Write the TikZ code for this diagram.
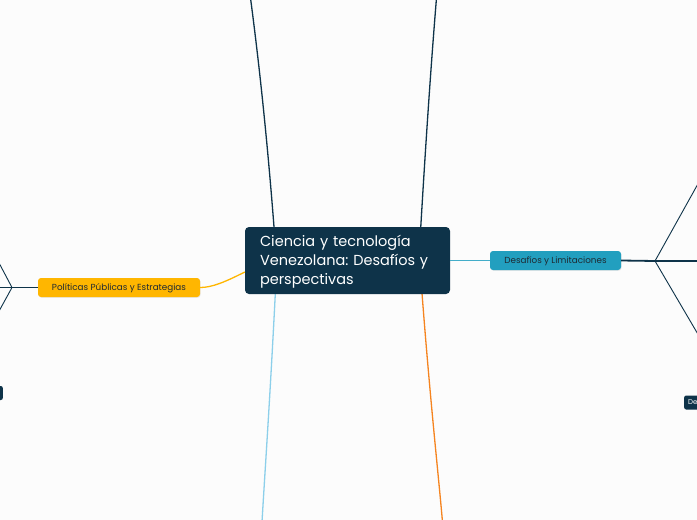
\documentclass[tikz,border=0pt]{standalone}
\usepackage{fontspec}
\setmainfont{Poppins}
\frenchspacing
\usetikzlibrary{shadows}
\definecolor{bg}{HTML}{FCFCFC}
\definecolor{navy}{HTML}{0E3349}
\definecolor{skyl}{HTML}{8CCFEA}
\definecolor{teal}{HTML}{229FBF}
\definecolor{orng}{HTML}{F5841F}
\definecolor{gold}{HTML}{FFB600}
\definecolor{txt}{HTML}{1F2A33}
\tikzset{
  mainbox/.style={fill=navy, rounded corners=4pt, minimum width=205pt, minimum height=67pt, inner sep=0pt},
  maintext/.style={text=white, text width=176pt, align=left, inner xsep=0pt, font=\fontsize{14.5}{19}\selectfont},
  subbox/.style={rounded corners=3pt, minimum height=19pt, inner xsep=0pt, text=txt, text height=7pt, text depth=1.2pt, font=\fontsize{8.8}{10}\selectfont, drop shadow={shadow xshift=0.6pt, shadow yshift=-0.8pt, opacity=0.15}},
  smallbox/.style={fill=navy, rounded corners=2pt, minimum height=14pt, text=white, text height=5.5pt, text depth=1pt, font=\fontsize{7}{8}\selectfont, inner xsep=4pt},
  branch/.style={line width=1.3pt},
  thin/.style={line width=0.9pt, navy},
}
\begin{document}
\begin{tikzpicture}[x=1pt,y=-1pt]
\useasboundingbox[fill=bg] (0,0) rectangle (697,520);
% coordinates
\coordinate (tl) at (250.5,-2);
\coordinate (tr) at (436.5,-2);
\coordinate (bl) at (262,522);
\coordinate (br) at (442.5,522);
\coordinate (fr) at (655,261);
\coordinate (fr1) at (699,182);
\coordinate (fr2) at (699,261);
\coordinate (fr3) at (699,336);
\coordinate (fl) at (12,287.5);
\coordinate (fl1) at (-2,261);
\coordinate (fl2) at (-2,287.5);
\coordinate (fl3) at (-2,313);
% branches behind main node
\draw[branch, navy] (275,240) .. controls (266,120) and (256,40) .. (tl);
\draw[branch, navy] (420,240) .. controls (427,120) and (433,40) .. (tr);
\draw[branch, skyl] (276,280) .. controls (270,400) and (265,470) .. (bl);
\draw[branch, orng] (421,280) .. controls (430,400) and (438,470) .. (br);
% main node
\node[mainbox] (c) at (347.5,260.5) {};
\node[maintext, anchor=west] (ct) at ([xshift=15pt, yshift=-1.5pt]c.west) {Ciencia y tecnología Venezolana: Desafíos y perspectivas};
% right subtopic
\node[subbox, fill=teal, minimum width=131pt] (d) at (555.5,260.5) {Desafíos y Limitaciones};
\draw[branch, teal!85] (c.east |- d.west) -- (d.west);
\draw[line width=1.8pt, navy] (d.east) -- (fr) -- (fr2);
\draw[thin] (fr1) -- (fr) -- (fr3);
\node[smallbox, anchor=west] (dn) at (684,402.5) {De};
% left subtopic
\node[subbox, fill=gold, minimum width=162pt] (p) at (119,287.5) {Políticas Públicas y Estrategias};
\draw[branch, gold] (c.west |- 0,272) .. controls (225,282) and (212,287.5) .. (p.east);
\draw[line width=1.8pt, navy] (p.west) -- (fl) -- (fl2);
\draw[thin] (fl1) -- (fl) -- (fl3);
\node[smallbox, anchor=east] (ln) at (3,393) {};
\end{tikzpicture}
\end{document}
